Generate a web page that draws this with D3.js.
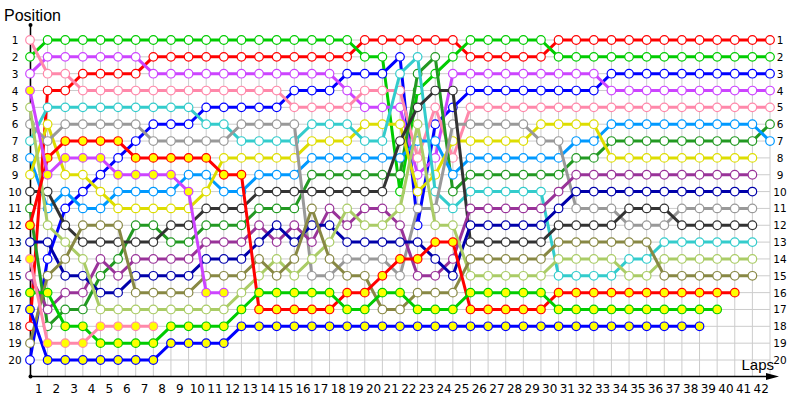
<!DOCTYPE html>
<html><head><meta charset="utf-8">
<script src="https://cdn.jsdelivr.net/npm/d3@7"></script>
<style>body{margin:0;background:#fff}svg{display:block}</style>
</head><body>
<svg id="c" width="800" height="400"></svg>
<script>
const laps = d3.range(0, 43);
const positions = d3.range(1, 21);
const lapLabels = d3.range(1, 43);

// series: position per lap (lap 0 = grid), null = not running
const red    = [18,4,4,3,3,3,3,2,2,2, 2,2,2,2,2,2,2,2,2,1, 1,1,1,1,1,2,2,2,2,2, 1,1,1,1,1,1,1,1,1,1, 1,1,1];
const green  = [2,1,1,1,1,1,1,1,1,1, 1,1,1,1,1,1,1,1,1,2, 2,10,4,3,2,1,1,1,1,1, 2,2,2,2,2,2,2,2,2,2, 2,2,2];
const blue   = [20,14,11,10,9,8,7,6,6,6, 5,5,5,5,5,4,4,4,3,3, 3,2,12,6,5,4,4,4,4,4, 4,4,4,3,3,3,3,3,3,3, 3,3,3];
const violet = [3,2,2,2,2,2,2,3,3,3, 3,3,3,3,3,3,3,3,4,5, 5,5,9,8,3,3,3,3,3,3, 3,3,3,4,4,4,4,4,4,4, 4,4,4];
const pink   = [1,3,3,4,4,4,4,4,4,4, 4,4,4,4,4,5,5,5,5,4, 4,4,8,5,8,5,5,5,5,5, 5,5,5,5,5,5,5,5,5,5, 5,5,5];
const dkgreen= [11,18,17,17,15,14,12,12,13,13, 12,12,12,11,11,11,9,9,9,9, 9,9,3,2,10,9,9,9,9,9, 9,8,8,7,7,7,7,7,7,7, 7,7,6];
const ltblue = [8,11,10,11,11,10,10,10,10,9, 9,10,10,9,9,9,8,8,8,8, 8,8,7,7,9,8,8,8,8,8, 8,7,7,6,6,6,6,6,6,6, 6,6,7];
const yellow = [9,6,9,9,10,11,11,11,11,11, 10,8,8,8,8,8,7,7,7,6, 6,6,10,9,7,7,7,7,7,6, 6,6,6,8,8,8,8,8,8,8, 8,8,null];
const cyan   = [7,5,5,5,5,5,5,5,5,5, 6,6,7,7,7,7,6,6,6,7, 7,3,2,10,11,10,10,10,10,10, 15,15,15,15,14,14,13,13,13,13, 13,13,null];
const gray   = [6,7,6,6,6,6,6,7,7,7, 7,7,6,6,6,6,15,15,14,14, 14,15,11,11,6,6,6,6,6,7, 7,11,11,11,12,12,12,11,11,11, 11,11,null];
const black  = [10,10,12,13,13,13,13,13,12,12, 11,11,11,10,10,10,10,10,10,10, 10,7,5,4,4,13,13,13,13,13, 12,12,12,12,11,11,11,12,12,12, 12,12,null];
const plum   = [15,17,16,16,14,15,14,14,14,14, 13,13,13,12,13,12,13,11,12,11, 11,12,15,15,14,11,11,11,11,11, 10,9,9,9,9,9,9,9,9,9, 9,9,null];
const navy   = [13,13,15,15,16,16,15,15,15,15, 14,14,14,13,12,13,12,12,13,13, 13,13,13,14,15,12,12,12,12,12, 11,10,10,10,10,10,10,10,10,10, 10,10,null];
const lime   = [5,12,13,14,17,17,17,17,17,17, 17,17,16,15,14,15,14,13,11,12, 12,11,6,12,12,15,15,15,15,15, 14,14,14,14,15,15,14,14,14,14, 14,14,null];
const olive  = [19,15,14,12,12,12,16,16,16,16, 15,15,15,14,15,14,11,14,15,15, 17,17,16,16,16,14,14,14,14,14, 13,13,13,13,13,13,15,15,15,15, 15,15,null];
const redY   = [12,8,7,7,7,7,8,8,8,8, 8,9,9,17,17,17,17,17,16,16, 15,14,14,13,13,17,17,17,17,17, 16,16,16,16,16,16,16,16,16,16, 16,null,null];
const greenY = [16,16,18,18,19,19,19,19,18,18, 18,18,17,16,16,16,16,16,17,17, 16,16,17,17,17,16,16,16,16,16, 17,17,17,17,17,17,17,17,17,17, null,null,null];
const blueY  = [17,20,20,20,20,20,20,20,19,19, 19,19,18,18,18,18,18,18,18,18, 18,18,18,18,18,18,18,18,18,18, 18,18,18,18,18,18,18,18,18,null, null,null,null];
const violetY= [4,9,8,8,8,9,9,9,9,10, 16,16];
const pinkY  = [14,19,19,19,18,18,18,18];

const seriesColors = ["#ff0000","#00cc00","#0000ff","#cc44ff","#ff88aa","#229922","#0099ff","#dddd00","#33cccc","#999999",
  "#333333","#993399","#0000aa","#aacc66","#888844","#ff0000","#00cc00","#0000ff","#cc44ff","#ff88aa"];
const seriesFills = ["#fff","#fff","#fff","#fff","#fff","#fff","#fff","#fff","#fff","#fff",
  "#fff","#fff","#fff","#fff","#fff","#ffff00","#ffff00","#ffff00","#ffff00","#ffff00"];
const seriesValues = [red,green,blue,violet,pink,dkgreen,ltblue,yellow,cyan,gray,black,plum,navy,lime,olive,redY,greenY,blueY,violetY,pinkY];

const svg = d3.select("#c");
const x = d3.scaleLinear().domain([0, 42]).range([30, 770]);
const y = d3.scaleLinear().domain([1, 20]).range([40, 360]);
const font = "Tahoma, 'DejaVu Sans', sans-serif";
const titleFont = "'Liberation Sans', Arial, sans-serif";

// grid
const grid = svg.append("g").attr("stroke", "#cccccc").attr("stroke-width", 1);
grid.selectAll("line.v").data(laps).join("line").attr("class","v")
  .attr("x1", d => x(d)).attr("x2", d => x(d)).attr("y1", 35).attr("y2", 376);
grid.selectAll("line.h").data(positions).join("line").attr("class","h")
  .attr("x1", x(0)).attr("x2", x(42)).attr("y1", d => y(d)).attr("y2", d => y(d));

// axes
svg.append("line").attr("x1", 30.5).attr("x2", 30.5).attr("y1", 25).attr("y2", 376).attr("stroke", "#000").attr("stroke-width", 1.5);
svg.append("line").attr("x1", 30).attr("x2", 772).attr("y1", 376.5).attr("y2", 376.5).attr("stroke", "#000").attr("stroke-width", 1.5);
svg.append("circle").attr("cx", 30.5).attr("cy", 25).attr("r", 2).attr("fill", "#000");
svg.append("circle").attr("cx", 30.5).attr("cy", 376.5).attr("r", 2).attr("fill", "#000");
svg.append("path").attr("d", "M766,373 L779,376.5 L766,380 Z").attr("fill", "#000");

// labels
svg.append("g").selectAll("text").data(positions).join("text")
  .attr("x", 15).attr("y", d => y(d) + 4).attr("text-anchor", "middle")
  .attr("font-family", font).attr("font-size", 10.5).attr("fill", "#000").text(d => d);
svg.append("g").selectAll("text").data(positions).join("text")
  .attr("x", 780).attr("y", d => y(d) + 4).attr("text-anchor", "middle")
  .attr("font-family", font).attr("font-size", 10.5).attr("fill", "#000").text(d => d);
svg.append("g").selectAll("text").data(lapLabels).join("text")
  .attr("x", d => x(d - 0.5)).attr("y", 393).attr("text-anchor", "middle")
  .attr("font-family", font).attr("font-size", 12).attr("fill", "#000").text(d => d);
svg.append("text").attr("x", 4).attr("y", 21).attr("font-family", titleFont).attr("font-size", 16).attr("fill", "#000").text("Position");
svg.append("text").attr("x", 774).attr("y", 370).attr("text-anchor", "end").attr("font-family", titleFont).attr("font-size", 15).attr("fill", "#000").text("Laps");

// series
const line = d3.line().defined(d => d.p != null).x(d => x(d.lap)).y(d => y(d.p));
seriesValues.forEach((vals, i) => {
  const pts = vals.map((p, lap) => ({lap, p}));
  const g = svg.append("g");
  g.append("path").attr("d", line(pts)).attr("fill", "none")
    .attr("stroke", seriesColors[i]).attr("stroke-width", 3).attr("stroke-linejoin", "round");
  g.selectAll("circle").data(pts.filter(d => d.p != null)).join("circle")
    .attr("cx", d => x(d.lap)).attr("cy", d => y(d.p)).attr("r", 4.3)
    .attr("fill", seriesFills[i]).attr("stroke", seriesColors[i]).attr("stroke-width", 1.2);
});
</script>
</body></html>
